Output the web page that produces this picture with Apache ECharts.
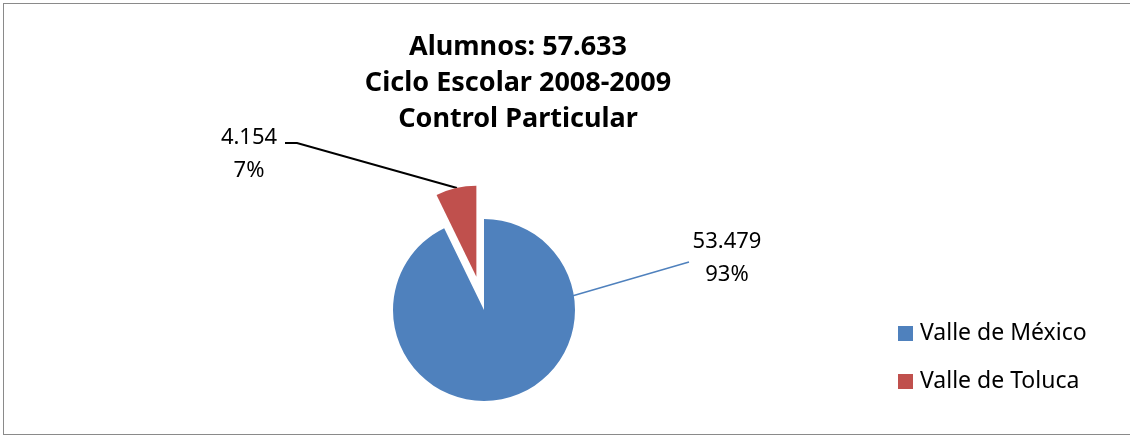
<!DOCTYPE html>
<html>
<head>
<meta charset="utf-8">
<script src="https://cdn.jsdelivr.net/npm/echarts@6/dist/echarts.min.js"></script>
<style>
  html, body { margin: 0; padding: 0; background: #fff; }
  #chart { position: absolute; left: 0; top: 0; width: 1130px; height: 438px; }
  .frame { position: absolute; left: 3px; top: 3px; width: 1140px; height: 432px; border: 1px solid #8a8a8a; box-sizing: border-box; }
</style>
</head>
<body>
<div class="frame"></div>
<div id="chart"></div>
<script>
// datos
const titleLines = ['Alumnos: 57.633', 'Ciclo Escolar 2008-2009', 'Control Particular'];
const regions = ['Valle de México', 'Valle de Toluca'];
const alumnos = [53479, 4154];
const colors = ['#4F81BD', '#C0504D'];

// posición del pastel
const CX = 484, CY = 310, R = 91;
const EXPLODE = 34; // separación de la porción de Toluca

const total = alumnos.reduce((a, b) => a + b, 0);
const fmtNum = v => v.toLocaleString('de-DE');

// centro desplazado de la porción separada (la última, que acaba arriba)
const half = Math.PI * alumnos[1] / total;
const exCenter = [CX - EXPLODE * Math.sin(half), CY - EXPLODE * Math.cos(half)];

const chart = echarts.init(document.getElementById('chart'));
const font = "Noto Sans, sans-serif";

// posiciones de etiquetas y líneas guía (como en el original)
const labelSpots = [
  { x: 727, y: 258, line: [[CX + 64, CY - 7], [689, 262]] },
  { x: 249, y: 154, line: [[457, 188], [297, 143], [285, 143]] }
];

const labelCfg = {
  fontFamily: font,
  fontSize: 22,
  color: '#000',
  lineHeight: 33,
  align: 'center',
  formatter: p => fmtNum(p.value) + '\n' + Math.round(p.percent) + '%'
};

// show = índice de la porción que dibuja esta serie
const pieSeries = (show, center) => ({
  type: 'pie',
  center,
  radius: R,
  startAngle: 90,
  clockwise: true,
  silent: true,
  emphasis: { disabled: true },
  label: labelCfg,
  labelLine: { show: true, length: 10, length2: 10 },
  labelLayout: p => {
    const s = labelSpots[p.dataIndex];
    return { x: s.x, y: s.y, align: 'center', verticalAlign: 'middle', labelLinePoints: s.line };
  },
  data: regions.map((name, i) => ({
    name,
    value: alumnos[i],
    itemStyle: { color: colors[i], opacity: i === show ? 1 : 0 },
    label: { show: i === show },
    labelLine: {
      show: i === show,
      lineStyle: i === 0 ? { color: colors[0], width: 1.5 } : { color: '#000', width: 2 }
    }
  }))
});

const option = {
  animation: false,
  title: {
    text: titleLines.join('\n'),
    left: 513,
    top: 24,
    textAlign: 'center',
    textStyle: { fontFamily: font, fontSize: 27, fontWeight: 'bold', color: '#000', lineHeight: 36 }
  },
  legend: {
    orient: 'vertical',
    left: 893,
    top: 317,
    itemWidth: 15,
    itemHeight: 15,
    itemGap: 25,
    icon: 'rect',
    data: regions.map((name, i) => ({ name, itemStyle: { color: colors[i], opacity: 1 } })),
    textStyle: { fontFamily: font, fontSize: 23, lineHeight: 23, color: '#000', padding: [0, 0, 0, 2] }
  },
  series: [pieSeries(0, [CX, CY]), pieSeries(1, exCenter)]
};
chart.setOption(option);
</script>
</body>
</html>
